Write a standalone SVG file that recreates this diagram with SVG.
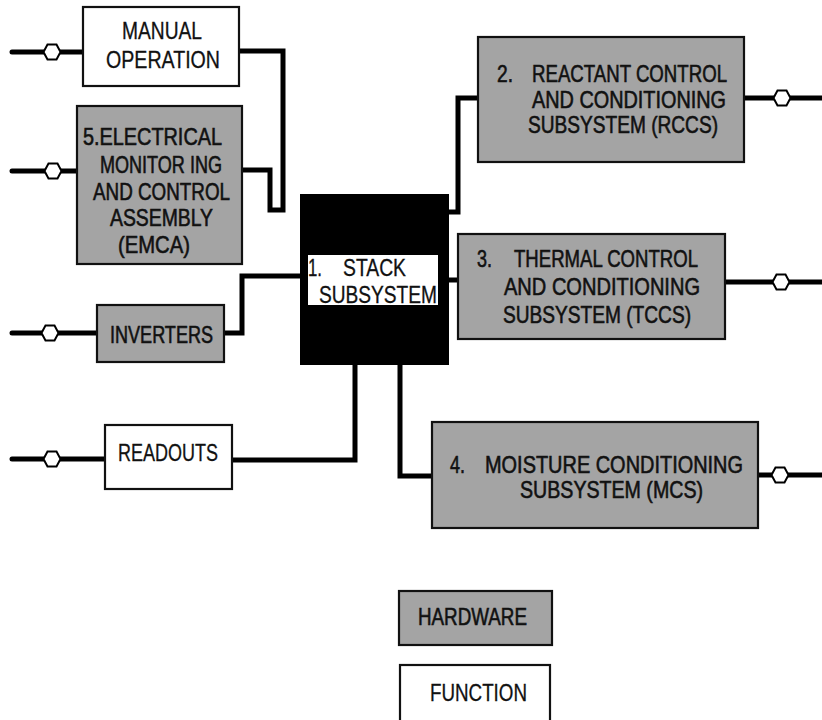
<svg xmlns="http://www.w3.org/2000/svg" xmlns:xlink="http://www.w3.org/1999/xlink" width="822" height="720" viewBox="0 0 822 720">
<defs>
<style>
.fn{fill:#ffffff;stroke:#111;stroke-width:2.2}
.hw{fill:#a4a4a4;stroke:#111;stroke-width:2.2}
.t{font-family:"Liberation Sans","DejaVu Sans",sans-serif;font-size:23px;fill:#111;stroke:#111;stroke-width:0.3}
.tb{font-family:"Liberation Sans","DejaVu Sans",sans-serif;font-size:24px;fill:#111;stroke:#111;stroke-width:0.6}
.w{fill:none;stroke:#000;stroke-width:5;stroke-linejoin:miter}
.cap{stroke-linecap:round}
.hex{fill:#fff;stroke:#000;stroke-width:2}
</style>
<polygon id="hx" class="hex" points="-8.5,0 -4.5,-7.5 4.5,-7.5 8.5,0 4.5,7.5 -4.5,7.5"/>
</defs>
<rect width="822" height="720" fill="#fff"/>

<g id="connectors">
  <path class="w cap" d="M12,52 H83"/>
  <path class="w cap" d="M12,171 H77"/>
  <path class="w cap" d="M12,333 H97"/>
  <path class="w cap" d="M12,459 H105"/>
  <path class="w" d="M239,51 H283 V210 H270 V170 H242"/>
  <path class="w" d="M224,333 H242 V276 H301"/>
  <path class="w" d="M232,460 H355 V364"/>
  <path class="w" d="M400,364 V476 H432"/>
  <path class="w" d="M478,98 H458 V212 H448"/>
  <path class="w" d="M448,280 H458"/>
  <path class="w" d="M744,98 H822"/>
  <path class="w" d="M725,282 H822"/>
  <path class="w" d="M758,475 H822"/>
  <use xlink:href="#hx" x="52" y="52"/>
  <use xlink:href="#hx" x="53" y="171"/>
  <use xlink:href="#hx" x="50" y="333"/>
  <use xlink:href="#hx" x="52" y="459"/>
  <use xlink:href="#hx" x="782" y="98"/>
  <use xlink:href="#hx" x="781" y="282"/>
  <use xlink:href="#hx" x="780" y="475"/>
</g>

<g id="manual">
  <rect class="fn" x="83" y="7" width="156" height="79"/>
  <text class="t" x="122" y="39" textLength="80" lengthAdjust="spacingAndGlyphs">MANUAL</text>
  <text class="t" x="106" y="68" textLength="114" lengthAdjust="spacingAndGlyphs">OPERATION</text>
</g>

<g id="emca">
  <rect class="hw" x="77" y="106" width="165" height="158"/>
  <text class="tb" x="83" y="145" textLength="139" lengthAdjust="spacingAndGlyphs">5.ELECTRICAL</text>
  <text class="tb" x="100" y="173" textLength="122" lengthAdjust="spacingAndGlyphs">MONITOR ING</text>
  <text class="tb" x="93" y="200" textLength="137" lengthAdjust="spacingAndGlyphs">AND CONTROL</text>
  <text class="tb" x="110" y="226" textLength="103" lengthAdjust="spacingAndGlyphs">ASSEMBLY</text>
  <text class="tb" x="118" y="253" textLength="72" lengthAdjust="spacingAndGlyphs">(EMCA)</text>
</g>

<g id="inverters">
  <rect class="hw" x="97" y="305" width="127" height="57"/>
  <text class="tb" x="110" y="343" textLength="103" lengthAdjust="spacingAndGlyphs">INVERTERS</text>
</g>

<g id="readouts">
  <rect class="fn" x="105" y="425" width="127" height="64"/>
  <text class="t" x="118" y="461" textLength="100" lengthAdjust="spacingAndGlyphs">READOUTS</text>
</g>

<g id="stack">
  <rect x="301" y="195" width="147" height="169" fill="#000" stroke="#000" stroke-width="2"/>
  <rect x="308" y="255" width="130" height="50" fill="#fff"/>
  <text class="t" x="308" y="276" textLength="14" lengthAdjust="spacingAndGlyphs">1.</text>
  <text class="t" x="343" y="276" textLength="63" lengthAdjust="spacingAndGlyphs">STACK</text>
  <text class="t" x="319" y="303" textLength="118" lengthAdjust="spacingAndGlyphs">SUBSYSTEM</text>
</g>

<g id="rccs">
  <rect class="hw" x="478" y="37" width="266" height="125"/>
  <text class="tb" x="497" y="82" textLength="16" lengthAdjust="spacingAndGlyphs">2.</text>
  <text class="tb" x="532" y="82" textLength="195" lengthAdjust="spacingAndGlyphs">REACTANT CONTROL</text>
  <text class="tb" x="532" y="108" textLength="194" lengthAdjust="spacingAndGlyphs">AND CONDITIONING</text>
  <text class="tb" x="528" y="133" textLength="190" lengthAdjust="spacingAndGlyphs">SUBSYSTEM (RCCS)</text>
</g>

<g id="tccs">
  <rect class="hw" x="458" y="234" width="267" height="105"/>
  <text class="tb" x="477" y="267" textLength="15" lengthAdjust="spacingAndGlyphs">3.</text>
  <text class="tb" x="514" y="267" textLength="184" lengthAdjust="spacingAndGlyphs">THERMAL CONTROL</text>
  <text class="tb" x="504" y="295" textLength="196" lengthAdjust="spacingAndGlyphs">AND CONDITIONING</text>
  <text class="tb" x="503" y="323" textLength="188" lengthAdjust="spacingAndGlyphs">SUBSYSTEM (TCCS)</text>
</g>

<g id="mcs">
  <rect class="hw" x="432" y="422" width="326" height="106"/>
  <text class="tb" x="450" y="473" textLength="15" lengthAdjust="spacingAndGlyphs">4.</text>
  <text class="tb" x="485" y="473" textLength="258" lengthAdjust="spacingAndGlyphs">MOISTURE CONDITIONING</text>
  <text class="tb" x="520" y="498" textLength="183" lengthAdjust="spacingAndGlyphs">SUBSYSTEM (MCS)</text>
</g>

<g id="legend-hardware">
  <rect class="hw" x="399" y="591" width="153" height="54"/>
  <text class="tb" x="418" y="625" textLength="109" lengthAdjust="spacingAndGlyphs">HARDWARE</text>
</g>

<g id="legend-function">
  <rect class="fn" x="400" y="665" width="150" height="60"/>
  <text class="t" x="430" y="701" textLength="97" lengthAdjust="spacingAndGlyphs">FUNCTION</text>
</g>
</svg>
